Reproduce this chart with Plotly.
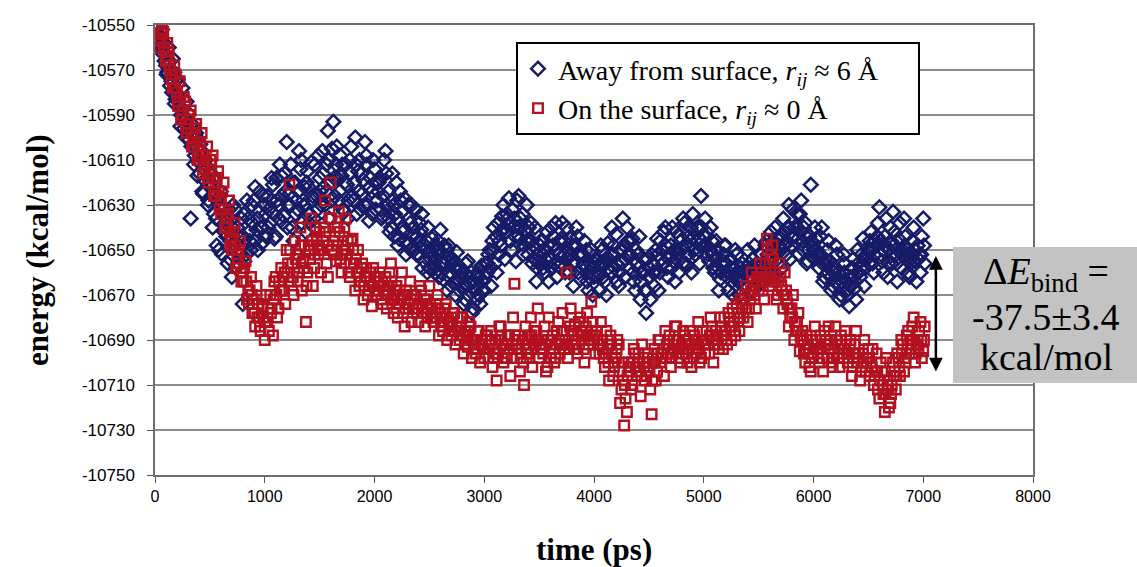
import plotly.graph_objects as go

# ---------------- data ----------------
time_ps = list(range(25, 7001, 25))          # first sampling grid, ps
time_ps_2 = [t + 12.5 for t in time_ps]      # interleaved sampling grid, ps
time_ps_3 = [t + 6.25 for t in time_ps]      # second interleaved grid, ps

away_energy = [
    -10551, -10556, -10563, -10568, -10560, -10575, -10571, -10581, -10586, -10578, -10592, -10589, -10636, -10603, -10598, -10611, -10606, -10619, -10613, -10622,
    -10640, -10618, -10628, -10624, -10635, -10644, -10632, -10662, -10648, -10640, -10652, -10674, -10645, -10636, -10650, -10628, -10641, -10633, -10647, -10630,
    -10626, -10638, -10621, -10644, -10630, -10617, -10635, -10602, -10625, -10640, -10620, -10632, -10614, -10628, -10642, -10622, -10611, -10636, -10626, -10618,
    -10606, -10630, -10597, -10620, -10593, -10612, -10628, -10617, -10633, -10621, -10610, -10626, -10600, -10615, -10632, -10619, -10608, -10637, -10624, -10614,
    -10628, -10618, -10635, -10606, -10624, -10640, -10630, -10620, -10645, -10633, -10627, -10648, -10638, -10644, -10632, -10652, -10641, -10655, -10646, -10658,
    -10645, -10660, -10650, -10641, -10663, -10654, -10648, -10666, -10658, -10651, -10668, -10660, -10672, -10655, -10665, -10676, -10662, -10670, -10657, -10668,
    -10660, -10650, -10646, -10656, -10638, -10648, -10630, -10642, -10627, -10650, -10636, -10628, -10645, -10634, -10641, -10652, -10638, -10648, -10664, -10655,
    -10646, -10660, -10642, -10653, -10648, -10638, -10657, -10645, -10652, -10640, -10660, -10648, -10655, -10644, -10663, -10652, -10658, -10668, -10650, -10662,
    -10655, -10668, -10650, -10664, -10647, -10660, -10652, -10643, -10666, -10656, -10648, -10640, -10658, -10645, -10668, -10652, -10672, -10660, -10678, -10662,
    -10652, -10666, -10645, -10660, -10650, -10640, -10662, -10648, -10655, -10642, -10660, -10650, -10638, -10657, -10646, -10634, -10652, -10640, -10626, -10648,
    -10642, -10655, -10646, -10660, -10650, -10663, -10655, -10648, -10668, -10658, -10662, -10652, -10670, -10656, -10665, -10650, -10662, -10654, -10667, -10658,
    -10652, -10664, -10646, -10658, -10650, -10640, -10656, -10645, -10636, -10652, -10630, -10648, -10640, -10634, -10634, -10646, -10638, -10655, -10621, -10650,
    -10645, -10658, -10640, -10662, -10650, -10655, -10666, -10648, -10660, -10670, -10652, -10664, -10675, -10658, -10667, -10650, -10662, -10645, -10658, -10650,
    -10642, -10660, -10648, -10631, -10655, -10644, -10662, -10640, -10633, -10652, -10645, -10658, -10636, -10650, -10662, -10646, -10655, -10648, -10660, -10636,
]
away_energy_2 = [
    -10558, -10552, -10566, -10571, -10577, -10565, -10583, -10576, -10590, -10596, -10584, -10601, -10594, -10608, -10617, -10603, -10625, -10610, -10628, -10616,
    -10634, -10648, -10626, -10652, -10638, -10656, -10646, -10630, -10658, -10644, -10636, -10655, -10628, -10646, -10638, -10622, -10650, -10640, -10626, -10644,
    -10632, -10618, -10645, -10628, -10612, -10638, -10624, -10630, -10612, -10646, -10628, -10606, -10638, -10622, -10615, -10634, -10626, -10640, -10608, -10630,
    -10622, -10612, -10636, -10605, -10626, -10618, -10608, -10632, -10612, -10628, -10604, -10620, -10634, -10610, -10625, -10602, -10630, -10618, -10610, -10632,
    -10620, -10636, -10610, -10630, -10642, -10616, -10634, -10648, -10628, -10640, -10652, -10636, -10630, -10650, -10644, -10638, -10658, -10650, -10640, -10654,
    -10656, -10648, -10662, -10656, -10648, -10668, -10660, -10654, -10670, -10664, -10658, -10674, -10666, -10662, -10678, -10668, -10660, -10674, -10664, -10656,
    -10652, -10666, -10640, -10660, -10646, -10635, -10654, -10636, -10646, -10640, -10655, -10626, -10640, -10648, -10630, -10646, -10656, -10640, -10652, -10646,
    -10658, -10650, -10664, -10640, -10656, -10662, -10646, -10638, -10660, -10650, -10645, -10666, -10640, -10652, -10658, -10646, -10664, -10656, -10670, -10654,
    -10662, -10648, -10656, -10670, -10654, -10640, -10658, -10664, -10650, -10636, -10662, -10652, -10646, -10664, -10656, -10644, -10660, -10668, -10654, -10672,
    -10660, -10650, -10668, -10654, -10642, -10658, -10652, -10640, -10664, -10650, -10646, -10636, -10656, -10644, -10660, -10650, -10640, -10656, -10646, -10636,
    -10652, -10640, -10658, -10646, -10668, -10656, -10648, -10662, -10654, -10670, -10650, -10664, -10658, -10672, -10660, -10656, -10668, -10648, -10660, -10664,
    -10658, -10648, -10660, -10642, -10662, -10652, -10644, -10658, -10648, -10640, -10654, -10632, -10646, -10652, -10628, -10640, -10656, -10644, -10648, -10640,
    -10652, -10644, -10664, -10656, -10646, -10668, -10660, -10652, -10672, -10662, -10656, -10670, -10662, -10654, -10672, -10660, -10652, -10666, -10654, -10646,
    -10656, -10646, -10638, -10652, -10660, -10636, -10650, -10656, -10642, -10664, -10638, -10650, -10644, -10660, -10654, -10640, -10664, -10652, -10644, -10656,
]
away_energy_3 = [
    -10554, -10560, -10558, -10572, -10566, -10580, -10585, -10574, -10595, -10590, -10600, -10596, -10604, -10612, -10600, -10616, -10624, -10610, -10630, -10620,
    -10626, -10636, -10650, -10630, -10642, -10636, -10654, -10640, -10632, -10656, -10645, -10634, -10652, -10642, -10630, -10646, -10636, -10624, -10640, -10634,
    -10640, -10628, -10634, -10618, -10636, -10626, -10616, -10640, -10630, -10620, -10634, -10624, -10610, -10630, -10620, -10638, -10628, -10612, -10632, -10624,
    -10616, -10624, -10610, -10628, -10618, -10604, -10624, -10612, -10620, -10636, -10616, -10628, -10612, -10624, -10616, -10630, -10612, -10622, -10634, -10620,
    -10624, -10632, -10626, -10616, -10636, -10628, -10644, -10636, -10624, -10642, -10646, -10630, -10650, -10640, -10652, -10646, -10634, -10648, -10660, -10650,
    -10652, -10654, -10646, -10660, -10656, -10650, -10662, -10656, -10664, -10658, -10662, -10666, -10656, -10670, -10660, -10664, -10672, -10662, -10668, -10662,
    -10656, -10658, -10650, -10644, -10652, -10642, -10640, -10634, -10638, -10632, -10644, -10640, -10636, -10652, -10646, -10640, -10646, -10654, -10658, -10648,
    -10652, -10654, -10648, -10658, -10644, -10650, -10652, -10656, -10646, -10654, -10652, -10656, -10648, -10660, -10652, -10656, -10650, -10662, -10658, -10656,
    -10660, -10656, -10662, -10654, -10658, -10652, -10648, -10656, -10660, -10650, -10654, -10646, -10652, -10660, -10650, -10658, -10664, -10654, -10668, -10658,
    -10656, -10660, -10652, -10646, -10656, -10648, -10654, -10658, -10650, -10652, -10644, -10656, -10648, -10652, -10640, -10644, -10646, -10650, -10640, -10644,
    -10648, -10650, -10652, -10654, -10658, -10660, -10652, -10656, -10660, -10664, -10658, -10660, -10664, -10660, -10658, -10662, -10658, -10660, -10656, -10662,
    -10656, -10658, -10652, -10654, -10646, -10650, -10648, -10650, -10642, -10646, -10640, -10644, -10644, -10640, -10642, -10650, -10644, -10650, -10646, -10654,
    -10650, -10652, -10656, -10654, -10660, -10662, -10658, -10664, -10666, -10664, -10660, -10668, -10666, -10662, -10664, -10656, -10658, -10654, -10652, -10656,
    -10650, -10652, -10644, -10646, -10650, -10648, -10656, -10646, -10648, -10656, -10650, -10652, -10648, -10654, -10656, -10652, -10650, -10654, -10652, -10648,
]

surface_energy = [
    -10550, -10557, -10553, -10566, -10562, -10574, -10568, -10580, -10575, -10590, -10584, -10596, -10588, -10600, -10594, -10606, -10598, -10612, -10604, -10616,
    -10608, -10622, -10615, -10628, -10620, -10636, -10628, -10645, -10638, -10652, -10646, -10660, -10655, -10668, -10662, -10672, -10666, -10680, -10675, -10690,
    -10682, -10670, -10688, -10662, -10676, -10658, -10668, -10650, -10621, -10656, -10646, -10664, -10640, -10655, -10682, -10648, -10636, -10658, -10645, -10642,
    -10650, -10628, -10662, -10620, -10646, -10655, -10633, -10660, -10640, -10652, -10662, -10645, -10668, -10650, -10664, -10672, -10658, -10668, -10675, -10662,
    -10668, -10660, -10674, -10662, -10670, -10656, -10678, -10666, -10674, -10660, -10684, -10670, -10664, -10676, -10670, -10682, -10668, -10678, -10672, -10666,
    -10676, -10682, -10670, -10678, -10686, -10674, -10682, -10688, -10678, -10684, -10690, -10680, -10686, -10693, -10684, -10690, -10696, -10686, -10692, -10698,
    -10688, -10694, -10702, -10690, -10696, -10684, -10700, -10692, -10688, -10698, -10665, -10694, -10704, -10690, -10684, -10696, -10680, -10692, -10686, -10698,
    -10690, -10684, -10702, -10694, -10688, -10698, -10682, -10692, -10686, -10660, -10694, -10688, -10683, -10696, -10680, -10688, -10684, -10692, -10673, -10690,
    -10686, -10696, -10690, -10702, -10694, -10688, -10706, -10698, -10692, -10712, -10728, -10722, -10702, -10710, -10696, -10704, -10715, -10698, -10706, -10700,
    -10723, -10694, -10704, -10690, -10698, -10686, -10696, -10702, -10690, -10684, -10698, -10692, -10688, -10700, -10686, -10694, -10690, -10682, -10698, -10690,
    -10686, -10696, -10684, -10692, -10688, -10680, -10694, -10686, -10678, -10690, -10682, -10674, -10686, -10676, -10670, -10682, -10672, -10664, -10676, -10668,
    -10660, -10672, -10645, -10666, -10648, -10660, -10670, -10662, -10676, -10668, -10684, -10676, -10690, -10682, -10695, -10686, -10700, -10692, -10704, -10696,
    -10690, -10700, -10694, -10686, -10698, -10690, -10702, -10684, -10694, -10688, -10698, -10690, -10696, -10706, -10692, -10700, -10708, -10696, -10704, -10694,
    -10700, -10710, -10696, -10716, -10704, -10722, -10708, -10718, -10700, -10712, -10698, -10690, -10704, -10688, -10696, -10684, -10700, -10690, -10682, -10695,
]
surface_energy_2 = [
    -10560, -10552, -10562, -10558, -10570, -10578, -10572, -10586, -10592, -10582, -10598, -10590, -10604, -10596, -10610, -10602, -10616, -10608, -10620, -10612,
    -10626, -10618, -10632, -10624, -10640, -10634, -10648, -10642, -10658, -10650, -10664, -10658, -10672, -10668, -10678, -10684, -10674, -10686, -10680, -10670,
    -10686, -10676, -10664, -10680, -10668, -10662, -10674, -10656, -10664, -10670, -10652, -10660, -10668, -10648, -10660, -10654, -10666, -10640, -10652, -10660,
    -10640, -10656, -10636, -10650, -10644, -10640, -10654, -10648, -10636, -10660, -10646, -10656, -10660, -10666, -10656, -10662, -10670, -10664, -10658, -10670,
    -10662, -10672, -10666, -10676, -10660, -10672, -10668, -10680, -10672, -10678, -10668, -10676, -10682, -10672, -10678, -10666, -10674, -10684, -10676, -10680,
    -10682, -10674, -10688, -10680, -10676, -10690, -10682, -10678, -10692, -10686, -10680, -10696, -10688, -10682, -10698, -10690, -10686, -10700, -10694, -10688,
    -10698, -10686, -10694, -10708, -10684, -10692, -10698, -10688, -10706, -10680, -10692, -10688, -10696, -10710, -10698, -10688, -10702, -10690, -10676, -10694,
    -10696, -10704, -10680, -10690, -10700, -10686, -10696, -10678, -10690, -10698, -10676, -10686, -10694, -10682, -10690, -10700, -10678, -10688, -10682, -10696,
    -10692, -10682, -10698, -10686, -10708, -10696, -10700, -10690, -10718, -10708, -10716, -10700, -10712, -10694, -10706, -10700, -10692, -10708, -10696, -10712,
    -10700, -10708, -10690, -10696, -10706, -10692, -10688, -10696, -10684, -10694, -10700, -10686, -10696, -10690, -10702, -10688, -10696, -10700, -10686, -10696,
    -10692, -10680, -10700, -10688, -10694, -10686, -10680, -10692, -10684, -10676, -10688, -10680, -10672, -10680, -10666, -10676, -10660, -10670, -10662, -10656,
    -10668, -10656, -10662, -10652, -10664, -10672, -10656, -10668, -10660, -10674, -10680, -10670, -10686, -10678, -10690, -10696, -10688, -10702, -10690, -10684,
    -10696, -10688, -10704, -10692, -10684, -10700, -10694, -10690, -10702, -10696, -10686, -10700, -10690, -10698, -10686, -10696, -10702, -10690, -10698, -10706,
    -10694, -10704, -10712, -10700, -10714, -10698, -10720, -10710, -10704, -10696, -10706, -10692, -10700, -10686, -10694, -10680, -10692, -10686, -10698, -10684,
]
surface_energy_3 = [
    -10556, -10554, -10560, -10564, -10568, -10572, -10578, -10584, -10582, -10588, -10594, -10592, -10598, -10604, -10602, -10610, -10608, -10614, -10618, -10610,
    -10618, -10626, -10624, -10634, -10632, -10640, -10642, -10650, -10648, -10656, -10660, -10664, -10664, -10674, -10670, -10678, -10680, -10684, -10676, -10682,
    -10676, -10678, -10672, -10670, -10664, -10668, -10660, -10660, -10650, -10662, -10654, -10652, -10648, -10658, -10666, -10650, -10646, -10652, -10648, -10650,
    -10646, -10642, -10648, -10636, -10652, -10648, -10642, -10652, -10650, -10646, -10656, -10650, -10654, -10660, -10658, -10666, -10662, -10660, -10666, -10668,
    -10664, -10666, -10668, -10670, -10666, -10664, -10672, -10674, -10668, -10670, -10676, -10674, -10672, -10670, -10676, -10674, -10678, -10672, -10680, -10674,
    -10680, -10678, -10676, -10684, -10682, -10680, -10686, -10684, -10686, -10680, -10686, -10688, -10692, -10688, -10690, -10694, -10690, -10692, -10690, -10694,
    -10694, -10690, -10698, -10696, -10690, -10688, -10694, -10698, -10694, -10692, -10688, -10690, -10698, -10700, -10694, -10692, -10688, -10686, -10690, -10692,
    -10694, -10692, -10690, -10698, -10694, -10692, -10690, -10686, -10694, -10692, -10684, -10692, -10690, -10688, -10686, -10694, -10688, -10690, -10686, -10688,
    -10690, -10692, -10694, -10696, -10700, -10692, -10702, -10694, -10704, -10700, -10710, -10706, -10704, -10700, -10702, -10696, -10706, -10702, -10700, -10704,
    -10708, -10700, -10696, -10700, -10694, -10698, -10692, -10698, -10694, -10690, -10694, -10696, -10692, -10694, -10692, -10698, -10692, -10694, -10690, -10692,
    -10690, -10688, -10690, -10686, -10692, -10684, -10688, -10690, -10682, -10684, -10686, -10678, -10680, -10674, -10676, -10670, -10668, -10668, -10664, -10662,
    -10664, -10662, -10650, -10660, -10654, -10664, -10664, -10666, -10670, -10672, -10676, -10680, -10682, -10686, -10688, -10690, -10694, -10696, -10698, -10692,
    -10694, -10694, -10698, -10690, -10692, -10694, -10698, -10690, -10698, -10692, -10694, -10696, -10692, -10702, -10696, -10698, -10704, -10700, -10700, -10698,
    -10702, -10706, -10704, -10708, -10710, -10714, -10712, -10714, -10706, -10706, -10702, -10696, -10698, -10692, -10690, -10690, -10696, -10694, -10690, -10690,
]

series_names = [
    "Away from surface, <i>r</i><sub><i>ij</i></sub> \u2248 6 \u00c5\u00a0\u00a0\u00a0\u00a0\u00a0",
    "On the surface, <i>r</i><sub><i>ij</i></sub> \u2248 0 \u00c5",
]

x_tick_values = [0, 1000, 2000, 3000, 4000, 5000, 6000, 7000, 8000]
x_tick_labels = ["0", "1000", "2000", "3000", "4000", "5000", "6000", "7000", "8000"]
y_tick_values = [-10550, -10570, -10590, -10610, -10630, -10650, -10670, -10690, -10710, -10730, -10750]
y_tick_labels = ["-10550", "-10570", "-10590", "-10610", "-10630", "-10650", "-10670", "-10690", "-10710", "-10730", "-10750"]

binding_lines = ["\u0394<i>E</i><sub>bind</sub> =", "-37.5\u00b13.4", "kcal/mol"]
arrow_top, arrow_bottom, arrow_t = -10652, -10704, 7115

# ---------------- figure ----------------
NAVY = "#161c68"
RED = "#b3111f"
SERIF = "Liberation Serif, Times New Roman, serif"
SANS = "Liberation Sans, Arial, sans-serif"

fig = go.Figure()
fig.add_trace(go.Scatter(
    x=time_ps + time_ps_2 + time_ps_3, y=away_energy + away_energy_2 + away_energy_3,
    mode="markers", name=series_names[0],
    marker=dict(symbol="diamond-open", size=10.5, color=NAVY, line=dict(width=2.5, color=NAVY)),
))
fig.add_trace(go.Scatter(
    x=time_ps + time_ps_2 + time_ps_3, y=surface_energy + surface_energy_2 + surface_energy_3,
    mode="markers", name=series_names[1],
    marker=dict(symbol="square-open", size=9.5, color=RED, line=dict(width=2.4, color=RED)),
))

W, H = 1137, 567
L, R, T, B = 155, 104, 25, 92

fig.update_layout(
    width=W, height=H,
    margin=dict(l=L, r=R, t=T, b=B),
    paper_bgcolor="white", plot_bgcolor="white",
    showlegend=True,
    legend=dict(
        x=(516 - L) / (W - L - R), y=(H - B - 42) / (H - T - B),
        xanchor="left", yanchor="top",
        bgcolor="white", bordercolor="black", borderwidth=2,
        font=dict(family=SERIF, size=28, color="black"),
        tracegroupgap=0, itemsizing="trace",
    ),
    xaxis=dict(
        range=[0, 8000], tickvals=x_tick_values, ticktext=x_tick_labels,
        showgrid=False, zeroline=False,
        showline=True, linecolor="#6e6e6e", linewidth=1.5, mirror=True,
        ticks="outside", ticklen=6, tickcolor="#555", tickwidth=1,
        tickfont=dict(family=SANS, size=16, color="black"),
    ),
    yaxis=dict(
        range=[-10750, -10550], tickvals=y_tick_values, ticktext=y_tick_labels,
        showgrid=True, gridcolor="#8c8c8c", gridwidth=1.5, zeroline=False,
        showline=True, linecolor="#6e6e6e", linewidth=1.5, mirror=True,
        ticks="outside", ticklen=6, tickcolor="#555", tickwidth=1,
        ticklabelstandoff=9,
        tickfont=dict(family=SANS, size=17, color="black"),
    ),
)

# axis titles
fig.add_annotation(text="<b>energy (kcal/mol)</b>", xref="paper", yref="paper",
                   x=(37 - L) / (W - L - R), y=(H - B - 250) / (H - T - B),
                   xanchor="center", yanchor="middle", textangle=-90, showarrow=False,
                   font=dict(family=SERIF, size=31, color="black"))
fig.add_annotation(text="<b>time (ps)</b>", xref="paper", yref="paper",
                   x=0.5, y=(H - B - 549) / (H - T - B),
                   xanchor="center", yanchor="middle", showarrow=False,
                   font=dict(family=SERIF, size=31, color="black"))

# grey result box
fig.add_shape(type="rect", xref="paper", yref="paper",
              x0=(953 - L) / (W - L - R), x1=(1137 - L) / (W - L - R),
              y0=(H - B - 383) / (H - T - B), y1=(H - B - 247) / (H - T - B),
              fillcolor="#c3c3c3", line=dict(width=0), layer="above")
for txt, cy in zip(binding_lines, [274, 317, 357]):
    fig.add_annotation(text=txt, xref="paper", yref="paper",
                       x=(1046 - L) / (W - L - R), y=(H - B - cy) / (H - T - B),
                       xanchor="center", yanchor="middle", showarrow=False,
                       font=dict(family=SERIF, size=38, color="black"))

# double-headed arrow
fig.add_annotation(x=arrow_t, y=arrow_bottom, ax=arrow_t, ay=arrow_top,
                   xref="x", yref="y", axref="x", ayref="y", text="",
                   showarrow=True, arrowhead=2, startarrowhead=2, arrowside="end+start",
                   arrowsize=1.1, startarrowsize=1.1, arrowwidth=2.5, arrowcolor="black")

fig.write_html("out.html")
